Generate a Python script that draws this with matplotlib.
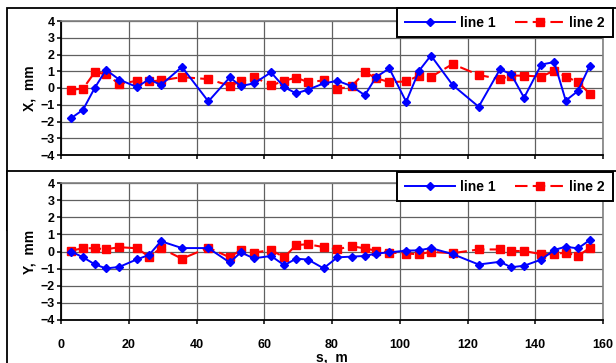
import matplotlib
matplotlib.use("Agg")
import matplotlib.pyplot as plt
from matplotlib.patches import Rectangle
from matplotlib.lines import Line2D

# ---- data ----
s = [3, 6.5, 10, 13.3, 17.2, 22.4, 26, 29.5, 35.7, 43.5, 49.8, 53.1, 56.9, 62, 65.9,
     69.4, 72.9, 77.5, 81.6, 85.8, 89.7, 93, 96.9, 101.9, 105.7, 109.2, 115.6, 123.3,
     129.6, 132.9, 136.7, 141.8, 145.6, 149, 152.6, 156.1]

x_line1 = [-1.8, -1.3, 0.02, 1.08, 0.5, 0.06, 0.52, 0.18, 1.26, -0.8, 0.63, 0.12, 0.27,
           0.93, 0.05, -0.32, -0.1, 0.27, 0.43, 0.11, -0.43, 0.65, 1.17, -0.82, 1.03,
           1.94, 0.18, -1.12, 1.12, 0.82, -0.58, 1.4, 1.55, -0.75, -0.18, 1.34]
x_line2 = [-0.1, -0.04, 0.95, 0.82, 0.24, 0.43, 0.39, 0.45, 0.65, 0.53, 0.14, 0.39, 0.68,
           0.15, 0.43, 0.62, 0.35, 0.45, -0.06, 0.1, 0.94, 0.59, 0.35, 0.39, 0.74, 0.66,
           1.43, 0.78, 0.53, 0.74, 0.74, 0.68, 1.04, 0.68, 0.35, -0.34]

y_line1 = [0, -0.34, -0.75, -0.99, -0.9, -0.46, -0.2, 0.6, 0.2, 0.2, -0.64, -0.05, -0.4,
           -0.26, -0.8, -0.42, -0.47, -0.98, -0.34, -0.3, -0.26, -0.12, -0.05, 0.05, 0.07,
           0.2, -0.15, -0.76, -0.6, -0.92, -0.83, -0.47, 0.09, 0.28, 0.18, 0.67]
y_line2 = [0.05, 0.19, 0.19, 0.13, 0.25, 0.19, -0.3, 0.19, -0.42, 0.22, -0.34, 0.09, -0.07,
           0.09, -0.34, 0.38, 0.42, 0.26, 0.13, 0.31, 0.18, 0.05, -0.06, -0.12, -0.16,
           -0.02, -0.1, 0.12, 0.12, 0.03, 0.03, -0.16, -0.15, -0.06, -0.26, 0.21]

x_ticks = [0, 20, 40, 60, 80, 100, 120, 140, 160]
y_ticks = [-4, -3, -2, -1, 0, 1, 2, 3, 4]
labels = ["line 1", "line 2"]

# ---- figure ----
plt.rcParams['font.family'] = ['Liberation Sans', 'DejaVu Sans']
plt.rcParams['font.weight'] = 'bold'
W, H = 616, 363
fig = plt.figure(figsize=(W / 100, H / 100), dpi=100)
fig.patch.set_facecolor('white')

def fx(px):
    return px / W

def fy(py):
    return 1 - py / H

# chart frames
fig.patches.append(Rectangle((fx(7), fy(230)), fx(640 - 7), (230 - 8) / H,
                             transform=fig.transFigure, facecolor='white',
                             edgecolor='black', lw=1.3, zorder=-1))
fig.patches.append(Rectangle((fx(7), fy(400)), fx(640 - 7), (400 - 171) / H,
                             transform=fig.transFigure, facecolor='white',
                             edgecolor='black', lw=1.3, zorder=1))

ax1 = fig.add_axes([fx(61), fy(155), fx(603 - 61), (155 - 21) / H], zorder=0)
ax2 = fig.add_axes([fx(61), fy(320), fx(603 - 61), (320 - 183) / H], zorder=2)

blue = '#0000FF'
red = '#FF0000'

def style(ax, v1, v2, ylabel, legend_top):
    ax.set_facecolor('white')
    ax.plot(s, v1, color=blue, lw=1.4, marker='D', markersize=4.5,
            markerfacecolor=blue, markeredgecolor=blue, zorder=4)
    ax.plot(s, v2, color=red, lw=1.5, linestyle=(0, (6, 2.5)), marker='s',
            markersize=6, markerfacecolor=red, markeredgecolor=red, zorder=3)
    ax.set_xlim(0, 160)
    ax.set_ylim(-4, 4)
    ax.set_xticks(x_ticks)
    ax.set_yticks(y_ticks)
    ax.grid(True, color='#606060', lw=0.9, zorder=0)
    ax.set_axisbelow(True)
    for sp in ['left', 'bottom']:
        ax.spines[sp].set_color('black')
        ax.spines[sp].set_linewidth(1.3)
    for sp in ['right', 'top']:
        ax.spines[sp].set_color('#808080')
        ax.spines[sp].set_linewidth(1.2)
    ax.tick_params(axis='both', direction='out', length=3, width=1.1,
                   labelsize=9, colors='black')
    ax.tick_params(axis='x', pad=11)
    ax.tick_params(axis='y', pad=1.5)
    for lab in ax.get_xticklabels() + ax.get_yticklabels():
        lab.set_fontweight('bold')
    ax.set_ylabel(ylabel, fontsize=10, fontweight='bold', labelpad=3)
    handles = [Line2D([], [], color=blue, lw=1.4, marker='D', markersize=4.5),
               Line2D([], [], color=red, lw=1.5, linestyle=(0, (6, 2.5)),
                      marker='s', markersize=6)]
    leg = ax.legend(handles, labels, loc='upper left',
                    bbox_to_anchor=(fx(397), fy(legend_top)),
                    bbox_transform=fig.transFigure, ncol=2, frameon=True,
                    fancybox=False, edgecolor='black', framealpha=1,
                    borderaxespad=0, borderpad=0.55, handlelength=3.6,
                    handletextpad=0.35, columnspacing=1.4,
                    prop={'weight': 'bold', 'size': 10})
    leg.get_frame().set_linewidth(1.4)
    leg.set_zorder(10)

style(ax1, x_line1, x_line2, 'X,  mm', 8)
style(ax2, y_line1, y_line2, 'Y,  mm', 172)
ax2.set_xlabel('s,  m', fontsize=10, fontweight='bold', labelpad=-1)

fig.savefig('out.png', dpi=100)
